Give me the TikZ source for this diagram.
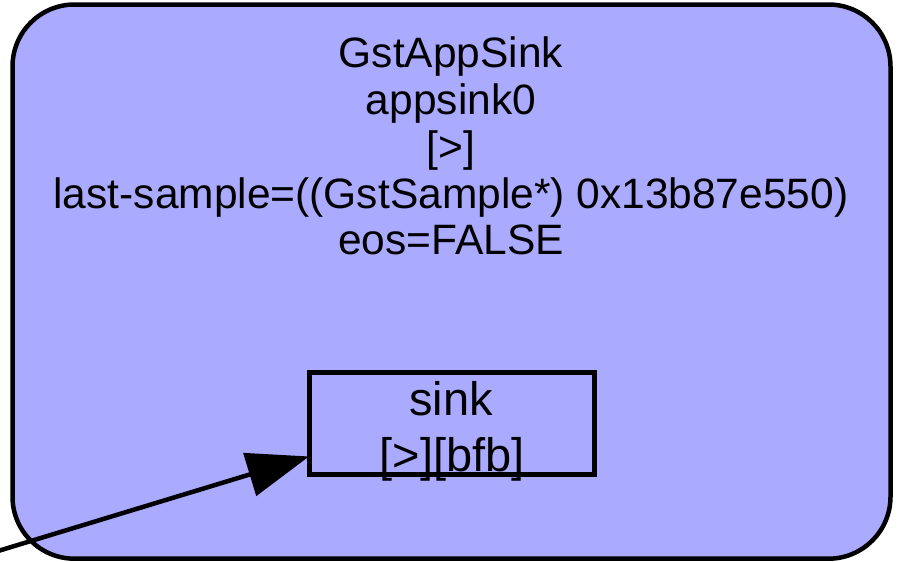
\documentclass[tikz,border=0pt]{standalone}
\usepackage{fontspec}
\setmainfont{Liberation Sans}
\usetikzlibrary{arrows.meta}
\definecolor{elemfill}{HTML}{AAAAFF}
\tikzset{
  element/.style={draw=black, fill=elemfill, line width=4.5pt, rounded corners=62pt},
  label/.style={font=\fontsize{42.5}{48}\selectfont, inner sep=0pt, anchor=base},
  padlabel/.style={label, font=\fontsize{47}{52}\selectfont},
  padbox/.style={draw=black, line width=5pt, minimum width=285.5pt, minimum height=102pt,
                 inner sep=0pt, outer sep=0pt},
  link/.style={line width=4.5pt, -{Triangle[length=62pt,width=44pt]}}
}
\begin{document}
\begin{tikzpicture}[x=1pt,y=-1pt]
  \useasboundingbox (0,0) rectangle (897,562);
  % element body
  \draw[element] (12.5,4.5) rectangle (890.5,558.7);
  % element properties
  \node[label] (t1) at (451,67)  {GstAppSink};
  \node[label] (t2) at (451,114) {appsink0};
  \node[label] (t3) at (451,161) {[>]};
  \node[label] (t4) at (451,208) {last-sample=((GstSample*) 0x13b87e550)};
  \node[label] (t5) at (451,254) {eos=FALSE};
  % sink pad
  \node[padbox] (sink) at (451.75,423.5) {};
  \node[padlabel] (s1) at (451,415) {sink};
  \node[padlabel] (s2) at (452,471) {[>][bfb]};
  % incoming link
  \coordinate (src) at (-2,551);
  \draw[link] (src) -- (sink.193.6);
\end{tikzpicture}
\end{document}
